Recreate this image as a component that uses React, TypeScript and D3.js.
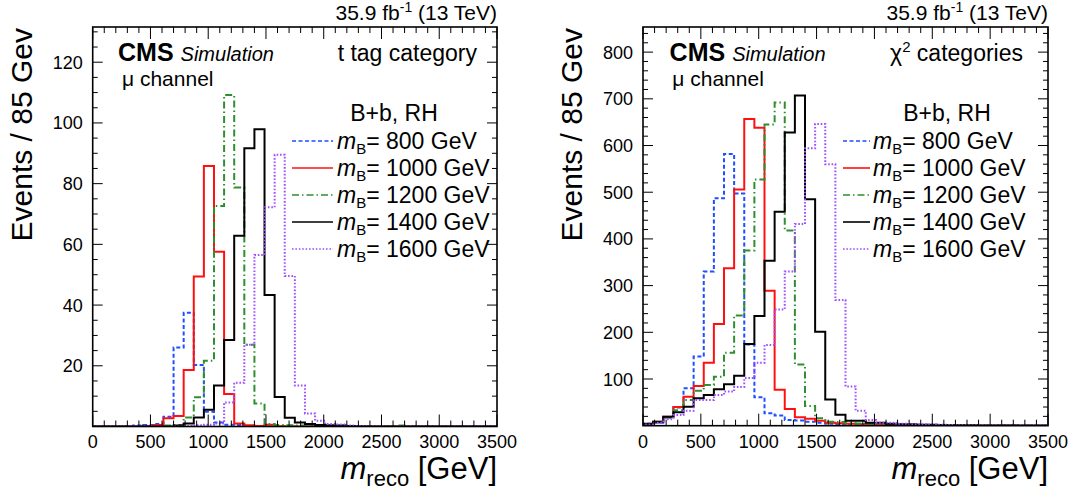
import React from 'react';
import * as d3 from 'd3';

// ---------- data ----------
const BIN_WIDTH = 87.5;
const X_MAX = 3500;
const massLabels = ['800', '1000', '1200', '1400', '1600'];
const xTickLabels = [0, 500, 1000, 1500, 2000, 2500, 3000, 3500];
const yTicksTTag = [20, 40, 60, 80, 100, 120];
const yTicksChi2 = [100, 200, 300, 400, 500, 600, 700, 800];

// t tag category (events per bin)
const tTag800 = [0, 0, 0, 0, 0.3, 0.5, 0.8, 3.2, 26, 37.5, 20.3, 4.9, 1.3, 0.6, 0.5, 0.2, 0.1, 0, 0, 0, 0, 0, 0, 0, 0, 0, 0, 0, 0, 0, 0, 0, 0, 0, 0, 0, 0, 0, 0, 0];
const tTag1000 = [0, 0, 0, 0, 0, 0.2, 0.5, 2.7, 3.5, 18.6, 49.4, 85.8, 57.6, 10.7, 1.0, 0.4, 0.2, 0.6, 0.1, 0, 0, 0, 0, 0, 0, 0, 0, 0, 0, 0, 0, 0, 0, 0, 0, 0, 0, 0, 0, 0];
const tTag1200 = [0, 0, 0, 0, 0, 0, 0, 0.3, 0.5, 3.0, 9.6, 21.7, 72.6, 109.2, 78.7, 26.9, 7.6, 0.8, 0.5, 0.4, 0.3, 0.5, 0.3, 0.2, 0.3, 0.1, 0, 0, 0, 0, 0.3, 0, 0, 0, 0, 0, 0, 0, 0, 0];
const tTag1400 = [0, 0, 0, 0, 0, 0, 0, 0, 0.3, 1.0, 3.0, 5.5, 13.5, 28.5, 62.8, 91.7, 97.9, 43.3, 9.7, 2.9, 1.3, 0.8, 0.5, 0.4, 0.3, 0.2, 0.1, 0, 0, 0, 0, 0, 0, 0, 0, 0, 0, 0, 0, 0];
const tTag1600 = [0, 0, 0, 0, 0, 0, 0, 0, 0, 0.2, 0.4, 0.6, 1.0, 7.9, 14.4, 26.9, 56.5, 72.2, 89.5, 49.6, 13.5, 4.3, 1.9, 0.8, 0.7, 0.3, 0.2, 0.1, 0, 0, 0, 0, 0, 0, 0, 0, 0, 0, 0, 0];

// chi2 categories (events per bin)
const chi800 = [4, 6.5, 18, 39, 80, 148, 330, 487, 582, 497, 174, 61, 26.5, 22, 12, 11, 8.6, 6.5, 4, 3.5, 2.5, 2, 2, 1.5, 1.5, 1, 1, 0.8, 0.6, 0.5, 0.4, 0.3, 0.3, 0.3, 0.2, 0.2, 0.2, 0.1, 0.1, 0.1];
const chi1000 = [3, 8.6, 19, 40, 62, 85, 135, 218, 337, 506, 657, 638, 289, 77, 36, 18, 15, 10.7, 6.5, 5, 4, 3, 3, 2, 2, 1.5, 1, 1, 0.8, 0.6, 0.5, 0.4, 0.3, 0.3, 0.2, 0.2, 0.2, 0.1, 0.1, 0.1];
const chi1200 = [3, 7, 17, 33, 55, 75, 87, 105, 156, 236, 375, 527, 645, 692, 418, 131, 42, 15.7, 8.6, 8, 5, 4.5, 4, 4, 3, 2.5, 2, 1.5, 1.2, 1, 0.8, 0.6, 0.5, 0.4, 0.3, 0.3, 0.2, 0.2, 0.1, 0.1];
const chi1400 = [4, 8.6, 19, 28.6, 40.7, 58.6, 66, 78, 89, 107, 175, 235, 353, 458, 628, 707, 485, 201, 56, 23.5, 10.7, 10.7, 6.5, 6.5, 4, 3, 3, 2, 2, 1.5, 1, 1, 0.8, 0.6, 0.5, 0.4, 0.3, 0.3, 0.2, 0.2];
const chi1600 = [2.5, 6.5, 14, 23, 32, 55, 55, 66, 73, 83, 102, 135, 173, 249, 330, 432, 594, 646, 560, 269, 84, 32, 12, 6.5, 6.5, 4, 3, 3, 2.5, 2, 1.5, 1.2, 1, 1, 0.8, 0.6, 0.5, 0.4, 0.3, 0.3];

// ---------- styles ----------
const seriesStyles = [
  { color: '#1f4fff', dash: '4,2.5' },
  { color: '#ff1010', dash: undefined },
  { color: '#2f8f2f', dash: '7,3,1.5,3' },
  { color: '#000000', dash: undefined },
  { color: '#a050ff', dash: '1.6,1.8' },
];

const FONT = "'Liberation Sans', Arial, Helvetica, sans-serif";

const panels = [
  {
    key: 'ttag',
    x0: 92.7, x1: 497, y0: 27, y1: 426.5,
    yMax: 131.6, yTicks: yTicksTTag, yMinor: 5,
    series: [tTag800, tTag1000, tTag1200, tTag1400, tTag1600],
    category: 'ttag',
    legLine: [292, 333], legText: 337,
  },
  {
    key: 'chi2',
    x0: 643, x1: 1048, y0: 27, y1: 425.7,
    yMax: 853.8, yTicks: yTicksChi2, yMinor: 20,
    series: [chi800, chi1000, chi1200, chi1400, chi1600],
    category: 'chi2',
    legLine: [843, 870], legText: 873,
  },
];

function Panel({ p }: { p: any }) {
  const x = d3.scaleLinear().domain([0, X_MAX]).range([p.x0, p.x1]);
  const y = d3.scaleLinear().domain([0, p.yMax]).range([p.y1, p.y0]);
  const line = d3.line<[number, number]>().x(d => x(d[0])).y(d => y(d[1]));

  const histPath = (vals: number[]) => {
    const pts: [number, number][] = [[0, 0]];
    vals.forEach((v, i) => {
      pts.push([i * BIN_WIDTH, v]);
      pts.push([(i + 1) * BIN_WIDTH, v]);
    });
    pts.push([vals.length * BIN_WIDTH, 0]);
    return line(pts) || '';
  };

  const xMinor = d3.range(0, X_MAX + 1, 100);
  const yMinor = d3.range(p.yMinor, p.yMax, p.yMinor);
  const clipId = `clip-${p.key}`;
  const off = p.x0 - 92.7;
  const rowY = [141, 168, 195, 222, 249];

  return (
    <g>
      <defs>
        <clipPath id={clipId}>
          <rect x={p.x0} y={p.y0} width={p.x1 - p.x0} height={p.y1 - p.y0} />
        </clipPath>
      </defs>
      {/* histograms */}
      <g clipPath={`url(#${clipId})`}>
        {p.series.map((vals: number[], i: number) => (
          <path key={i} d={histPath(vals)} fill="none" stroke={seriesStyles[i].color}
            strokeWidth={2} strokeDasharray={seriesStyles[i].dash} />
        ))}
      </g>
      {/* ticks */}
      <g stroke="#000" strokeWidth={1}>
        {xMinor.map(v => {
          const major = v % 500 === 0;
          const L = major ? 12 : 6;
          return (
            <g key={'x' + v}>
              <line x1={x(v)} x2={x(v)} y1={p.y1} y2={p.y1 - L} />
              <line x1={x(v)} x2={x(v)} y1={p.y0} y2={p.y0 + L} />
            </g>
          );
        })}
        {yMinor.map((v: number) => {
          const major = p.yTicks.includes(v);
          const L = major ? 10 : 5;
          return (
            <g key={'y' + v}>
              <line x1={p.x0} x2={p.x0 + L} y1={y(v)} y2={y(v)} />
              <line x1={p.x1} x2={p.x1 - L} y1={y(v)} y2={y(v)} />
            </g>
          );
        })}
      </g>
      <rect x={p.x0} y={p.y0} width={p.x1 - p.x0} height={p.y1 - p.y0} fill="none" stroke="#000" strokeWidth={1.6} />
      {/* tick labels */}
      <g fontFamily={FONT} fontSize={18} fill="#000">
        {xTickLabels.map(v => (
          <text key={'xl' + v} x={x(v)} y={448} textAnchor="middle">{v}</text>
        ))}
        {p.yTicks.map((v: number) => (
          <text key={'yl' + v} x={p.x0 - 10} y={y(v) + 6.5} textAnchor="end">{v}</text>
        ))}
      </g>
      {/* axis titles */}
      <text transform={`translate(${32 + off},28) rotate(-90)`} textAnchor="end" fontFamily={FONT} fontSize={30}>Events / 85 Gev</text>
      <text x={p.x1} y={479} textAnchor="end" fontFamily={FONT} fontSize={31}>
        <tspan fontStyle="italic">m</tspan>
        <tspan fontSize={22} dy={7}>reco</tspan>
        <tspan dy={-7}> [GeV]</tspan>
      </text>
      {/* lumi */}
      <text x={p.x1} y={20} textAnchor="end" fontFamily={FONT} fontSize={21}>
        35.9 fb<tspan fontSize={14} dy={-8}>-1</tspan><tspan dy={8}> (13 TeV)</tspan>
      </text>
      {/* CMS label */}
      <text x={118 + off + (p.key === 'chi2' ? 1.3 : 0)} y={61} fontFamily={FONT} fontSize={25} fontWeight="bold">
        CMS<tspan fontWeight="normal" fontStyle="italic" fontSize={20} dx={7}>Simulation</tspan>
      </text>
      <text x={122 + off} y={85.5} fontFamily={FONT} fontSize={21}>μ channel</text>
      {p.category === 'ttag' ? (
        <text x={477} y={61} textAnchor="end" fontFamily={FONT} fontSize={23}>t tag category</text>
      ) : (
        <text x={1023} y={61} textAnchor="end" fontFamily={FONT} fontSize={23}>
          χ<tspan fontSize={15} dy={-9}>2</tspan><tspan dy={9}> categories</tspan>
        </text>
      )}
      {/* legend */}
      <text x={p.key === 'ttag' ? 394 : 947} y={121} textAnchor="middle" fontFamily={FONT} fontSize={23}>B+b, RH</text>
      {massLabels.map((m, i) => (
        <g key={'leg' + i}>
          <line x1={p.legLine[0]} x2={p.legLine[1]} y1={rowY[i]} y2={rowY[i]}
            stroke={seriesStyles[i].color} strokeWidth={1.6} strokeDasharray={seriesStyles[i].dash} />
          <text x={p.legText} y={rowY[i] + 8} fontFamily={FONT} fontSize={23}>
            <tspan fontStyle="italic">m</tspan>
            <tspan fontSize={15} dy={5}>B</tspan>
            <tspan dy={-5}>= {m} GeV</tspan>
          </text>
        </g>
      ))}
    </g>
  );
}

export default function App() {
  return (
    <svg width={1075} height={494} style={{ position: 'absolute', left: 0, top: 0, background: '#fff' }}>
      <rect x={0} y={0} width={1075} height={494} fill="#fff" />
      {panels.map(p => <Panel key={p.key} p={p} />)}
    </svg>
  );
}
